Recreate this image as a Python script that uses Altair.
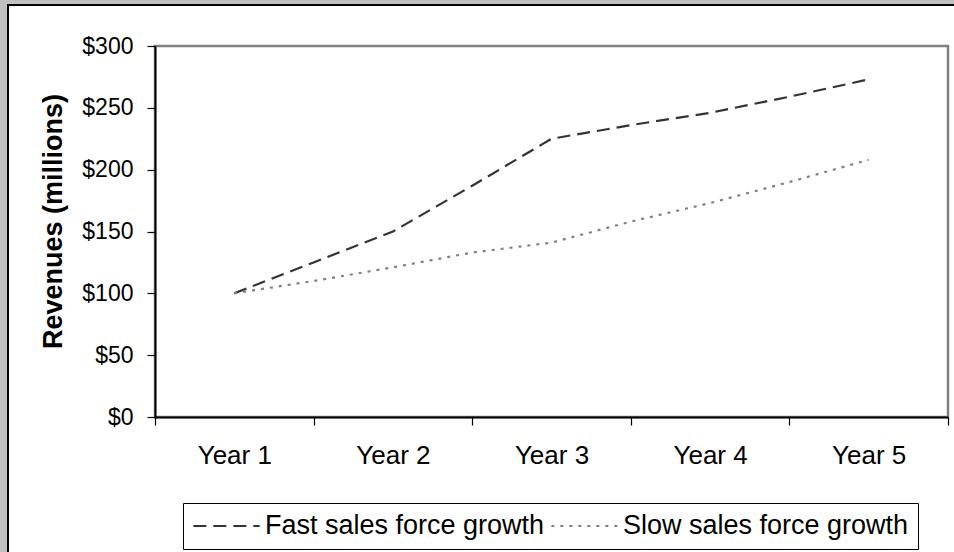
import altair as alt
import pandas as pd

# Revenue projections sampled every half year
periods = [1, 1.5, 2, 2.5, 3, 3.5, 4, 4.5, 5]
fast_growth = [100, 125, 150, 187, 225, 236, 246, 259, 273]
slow_growth = [100, 110, 121, 133, 141, 158, 173, 190, 208]

series_names = ["Fast sales force growth", "Slow sales force growth"]
year_ticks = [0.5, 1, 1.5, 2, 2.5, 3, 3.5, 4, 4.5, 5, 5.5]
revenue_ticks = [0, 50, 100, 150, 200, 250, 300]

df = pd.DataFrame(
    {
        "period": periods * 2,
        "revenue": fast_growth + slow_growth,
        "series": [series_names[0]] * len(periods) + [series_names[1]] * len(periods),
    }
)

FONT = "Liberation Sans"
W, H = 793, 371

legend = alt.Legend(
    title=None,
    orient="none",
    legendX=28,
    legendY=457,
    direction="horizontal",
    symbolType="stroke",
    symbolSize=4400,
    symbolStrokeWidth=2,
    clipHeight=28,
    labelFont=FONT,
    labelFontSize=27,
    labelColor="black",
    labelOffset=4,
    labelLimit=500,
    strokeColor="black",
    fillColor="white",
    padding=9,
    columnPadding=5,
    zindex=1,
)

one_row = alt.Data(values=[{"k": 0}])

# white chart frame with a black edge on the grey page
frame = alt.Chart(one_row).mark_rect(
    fill="white", stroke="black", strokeWidth=2
).encode(
    x=alt.value(-147), x2=alt.value(820), y=alt.value(-41), y2=alt.value(530)
)

# plot-area border (top and right edges show)
plot_border = alt.Chart(one_row).mark_rect(
    fill="white", stroke="#808080", strokeWidth=2.5
).encode(
    x=alt.value(0), x2=alt.value(W), y=alt.value(0), y2=alt.value(H)
)

lines = alt.Chart(df).mark_line(strokeWidth=2.2).encode(
    x=alt.X(
        "period:Q",
        scale=alt.Scale(domain=[0.5, 5.5], nice=False, zero=False),
        axis=alt.Axis(
            title=None,
            values=year_ticks,
            labelExpr="datum.value % 1 === 0 ? 'Year ' + datum.value : ''",
            tickOpacity={"condition": {"test": "datum.value % 1 === 0", "value": 0}, "value": 1},
            labelOverlap=False,
            labelFlush=False,
            grid=False,
            domainColor="black",
            domainWidth=2,
            tickColor="black",
            tickWidth=1.2,
            tickSize=8,
            labelFont=FONT,
            labelFontSize=26,
            labelColor="black",
            labelPadding=17,
            zindex=1,
        ),
    ),
    y=alt.Y(
        "revenue:Q",
        scale=alt.Scale(domain=[0, 300], nice=False),
        axis=alt.Axis(
            title="Revenues (millions)",
            values=revenue_ticks,
            labelExpr="'$' + datum.value",
            labelOverlap=False,
            labelFlush=False,
            grid=False,
            domainColor="black",
            domainWidth=2,
            tickColor="black",
            tickWidth=1.2,
            tickSize=8,
            labelFont=FONT,
            labelFontSize=23,
            labelColor="black",
            labelPadding=14,
            titleFont=FONT,
            titleFontSize=27,
            titleFontWeight="bold",
            titleColor="black",
            titleAngle=270,
            titleAlign="center",
            titleBaseline="middle",
            titleX=-102,
            titleY=175,
            zindex=1,
        ),
    ),
    color=alt.Color(
        "series:N",
        scale=alt.Scale(domain=series_names, range=["#333333", "#808080"]),
        legend=legend,
    ),
    strokeDash=alt.StrokeDash(
        "series:N",
        scale=alt.Scale(domain=series_names, range=[[13, 7], [3, 6]]),
        legend=legend,
    ),
    order="period:Q",
)

chart = (
    alt.layer(frame, plot_border, lines)
    .properties(
        width=W,
        height=H,
        autosize=alt.AutoSizeParams(type="none"),
        padding={"left": 155, "top": 46, "right": 6, "bottom": 135},
        background="#C0C0C0",
    )
    .configure_view(stroke=None)
)

chart.save("out.html", embed_options={"renderer": "svg", "actions": False})
